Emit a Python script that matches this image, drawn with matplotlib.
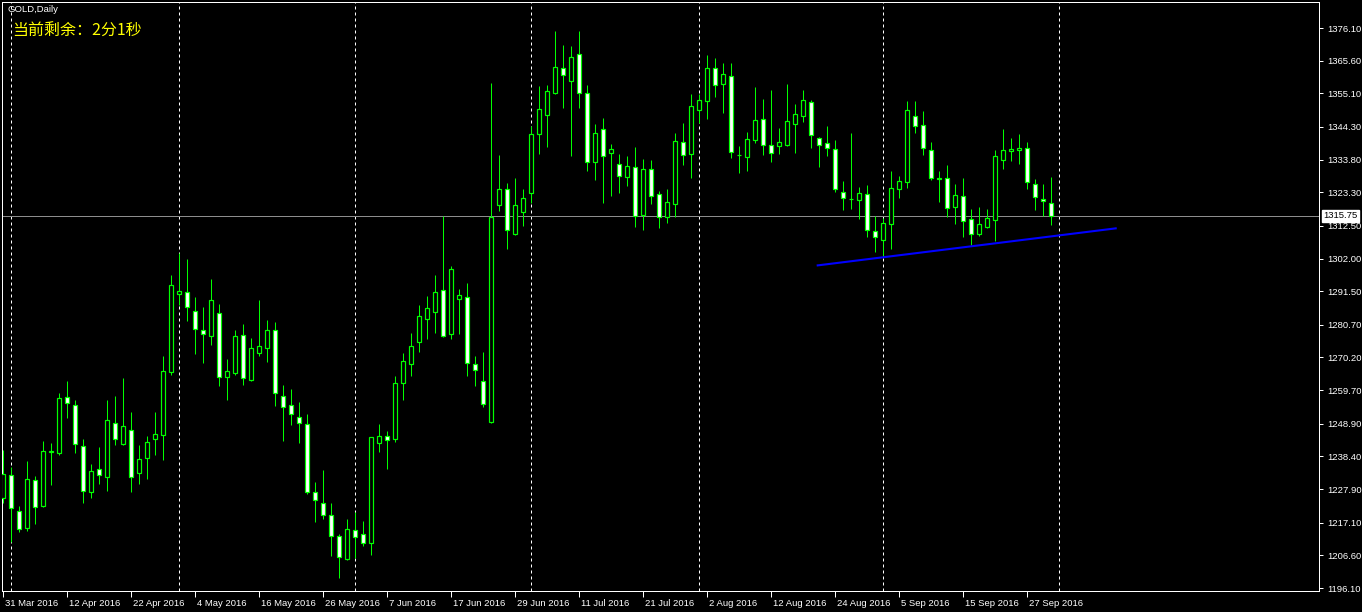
import matplotlib
matplotlib.use("Agg")
import matplotlib.pyplot as plt
import matplotlib.transforms as mtransforms
import numpy as np

# GOLD daily bars, 31 Mar 2016 .. 30 Sep 2016 (one entry per trading day)
OPEN = [1225.0, 1232.4, 1220.9, 1215.4, 1230.8, 1222.5, 1239.8, 1239.5, 1257.5, 1254.9,
        1241.7, 1227.0, 1234.4, 1231.8, 1249.1, 1242.4, 1246.9, 1233.1, 1237.9, 1244.0,
        1245.3, 1265.5, 1290.6, 1291.2, 1285.1, 1279.0, 1277.1, 1284.5, 1263.9, 1265.2,
        1277.4, 1263.0, 1271.6, 1273.2, 1279.0, 1257.8, 1254.9, 1251.1, 1248.8, 1227.0,
        1223.4, 1219.6, 1212.8, 1205.4, 1214.7, 1213.5, 1210.6, 1242.7, 1245.0, 1244.0,
        1262.0, 1268.1, 1275.2, 1282.6, 1284.8, 1291.9, 1277.7, 1289.0, 1289.6, 1268.1,
        1262.6, 1249.5, 1319.2, 1324.4, 1309.9, 1317.0, 1323.1, 1342.0, 1348.1, 1355.2,
        1363.2, 1359.1, 1367.7, 1355.2, 1333.0, 1343.6, 1335.9, 1332.4, 1328.2, 1331.4,
        1316.0, 1330.8, 1322.7, 1315.4, 1319.5, 1339.5, 1335.6, 1349.7, 1352.6, 1363.2,
        1358.1, 1360.7, 1335.3, 1334.6, 1340.1, 1346.9, 1338.5, 1338.2, 1338.5, 1345.2,
        1347.8, 1352.3, 1340.7, 1339.1, 1337.2, 1323.4, 1321.1, 1320.8, 1322.7, 1310.9,
        1308.0, 1313.1, 1324.4, 1326.6, 1347.8, 1344.9, 1336.9, 1327.9, 1327.9, 1318.6,
        1322.1, 1314.7, 1309.9, 1312.1, 1314.4, 1333.7, 1336.6, 1336.9, 1337.5, 1326.0,
        1321.1, 1319.9]
HIGH = [1240.5, 1235.0, 1222.5, 1236.9, 1232.1, 1243.4, 1242.7, 1258.8, 1262.6, 1256.5,
        1244.0, 1236.0, 1241.4, 1256.5, 1257.8, 1263.6, 1252.7, 1242.1, 1245.0, 1252.7,
        1270.7, 1296.7, 1303.8, 1301.9, 1289.6, 1286.4, 1295.4, 1287.4, 1269.7, 1279.0,
        1281.0, 1276.5, 1288.7, 1282.2, 1281.6, 1261.4, 1260.1, 1255.9, 1252.0, 1230.2,
        1234.0, 1223.4, 1213.5, 1218.3, 1220.5, 1217.6, 1244.8, 1248.8, 1246.6, 1264.2,
        1271.6, 1278.1, 1287.1, 1290.0, 1296.7, 1315.7, 1299.6, 1292.2, 1294.1, 1270.7,
        1272.0, 1358.4, 1335.3, 1326.3, 1327.9, 1324.4, 1344.6, 1357.5, 1357.8, 1375.1,
        1370.6, 1370.3, 1375.1, 1357.8, 1345.2, 1347.2, 1338.8, 1335.6, 1335.0, 1337.9,
        1334.0, 1333.7, 1323.7, 1324.4, 1342.4, 1345.6, 1354.9, 1354.9, 1367.4, 1366.5,
        1364.9, 1364.9, 1338.2, 1342.7, 1357.1, 1353.3, 1356.2, 1344.0, 1358.1, 1351.7,
        1356.2, 1353.0, 1341.1, 1344.6, 1340.1, 1326.9, 1342.4, 1325.0, 1325.6, 1315.7,
        1315.0, 1330.1, 1328.5, 1352.6, 1352.6, 1349.4, 1339.5, 1330.1, 1332.1, 1326.0,
        1327.9, 1317.9, 1318.6, 1317.9, 1336.9, 1343.6, 1340.7, 1342.0, 1339.5, 1327.6,
        1326.0, 1328.2]
LOW = [1223.4, 1210.9, 1214.1, 1214.4, 1216.7, 1222.1, 1229.2, 1239.0, 1250.7, 1239.5,
       1223.4, 1225.0, 1229.5, 1227.3, 1242.1, 1242.1, 1227.0, 1229.5, 1231.1, 1238.9,
       1237.2, 1264.6, 1287.1, 1281.9, 1271.3, 1268.4, 1274.2, 1261.0, 1256.5, 1264.6,
       1261.4, 1262.6, 1270.7, 1268.7, 1254.6, 1243.4, 1248.5, 1242.7, 1226.3, 1217.3,
       1218.3, 1206.4, 1199.3, 1205.1, 1205.7, 1209.6, 1206.7, 1239.8, 1234.4, 1243.0,
       1256.5, 1264.2, 1272.0, 1276.1, 1278.1, 1276.8, 1276.1, 1277.7, 1264.2, 1261.0,
       1254.3, 1249.0, 1317.3, 1305.1, 1309.6, 1312.5, 1319.9, 1335.6, 1337.9, 1354.9,
       1350.4, 1335.0, 1350.4, 1330.1, 1327.2, 1319.9, 1322.1, 1323.1, 1325.3, 1312.1,
       1311.2, 1319.5, 1311.8, 1313.4, 1315.4, 1332.1, 1327.9, 1345.6, 1346.9, 1353.9,
       1348.8, 1334.3, 1329.5, 1330.1, 1339.1, 1335.3, 1333.0, 1335.6, 1338.2, 1335.9,
       1345.9, 1337.5, 1331.4, 1335.0, 1323.4, 1317.6, 1317.9, 1314.7, 1308.9, 1304.1,
       1302.5, 1305.1, 1321.5, 1324.7, 1342.4, 1335.3, 1327.2, 1320.2, 1315.4, 1313.1,
       1308.9, 1306.4, 1309.2, 1311.8, 1307.6, 1330.8, 1333.4, 1332.4, 1324.4, 1317.6,
       1315.7, 1312.8]
CLOSE = [1232.7, 1221.8, 1215.1, 1231.1, 1222.1, 1240.1, 1240.1, 1257.2, 1255.6, 1242.4,
         1227.3, 1233.7, 1232.4, 1250.1, 1244.0, 1248.2, 1231.8, 1237.6, 1243.0, 1245.6,
         1265.9, 1293.5, 1291.6, 1286.4, 1279.4, 1277.7, 1288.7, 1263.9, 1265.9, 1277.1,
         1263.6, 1273.2, 1273.9, 1279.0, 1258.8, 1254.3, 1252.0, 1249.1, 1227.0, 1224.4,
         1219.6, 1212.8, 1206.1, 1215.1, 1212.5, 1210.6, 1244.6, 1245.0, 1243.7, 1262.0,
         1269.1, 1273.9, 1283.5, 1286.1, 1291.2, 1277.1, 1298.6, 1290.3, 1268.4, 1266.2,
         1255.2, 1315.4, 1324.4, 1311.2, 1319.2, 1321.5, 1342.0, 1350.1, 1355.9, 1363.6,
         1361.0, 1366.8, 1355.2, 1333.0, 1342.4, 1335.0, 1337.2, 1328.5, 1331.7, 1315.7,
         1330.8, 1322.1, 1315.4, 1320.2, 1339.8, 1335.3, 1351.0, 1353.0, 1363.2, 1357.8,
         1361.3, 1336.2, 1335.4, 1340.4, 1346.5, 1338.5, 1335.9, 1339.5, 1346.2, 1348.5,
         1353.0, 1341.7, 1338.5, 1337.5, 1324.4, 1321.5, 1321.2, 1323.1, 1311.2, 1308.9,
         1313.4, 1324.7, 1326.9, 1349.7, 1344.6, 1337.5, 1327.9, 1327.6, 1318.2, 1322.4,
         1314.1, 1309.9, 1313.1, 1315.0, 1335.0, 1336.9, 1337.2, 1337.5, 1326.6, 1321.8,
         1320.5, 1315.75]

X_LABELS = ["31 Mar 2016", "12 Apr 2016", "22 Apr 2016", "4 May 2016", "16 May 2016",
            "26 May 2016", "7 Jun 2016", "17 Jun 2016", "29 Jun 2016", "11 Jul 2016",
            "21 Jul 2016", "2 Aug 2016", "12 Aug 2016", "24 Aug 2016", "5 Sep 2016",
            "15 Sep 2016", "27 Sep 2016"]
LABEL_STEP = 8                                  # one date label every 8 bars
MONTH_STARTS = [1, 22, 44, 66, 87, 110, 132]    # bar index of the dashed separators
Y_TICKS = [1196.10, 1206.60, 1217.10, 1227.90, 1238.40, 1248.90, 1259.70, 1270.20,
           1280.70, 1291.50, 1302.00, 1312.50, 1323.30, 1333.80, 1344.30, 1355.10,
           1365.60, 1376.10]
LAST_PRICE = 1315.75
TREND_IDX = [101.8, 139.05]
TREND_PRICE = [1299.8, 1311.7]

GREEN = "#00FF00"
PX = 0.72  # one pixel in points at dpi 100

o = np.array(OPEN)
h = np.array(HIGH)
l = np.array(LOW)
c = np.array(CLOSE)
idx = np.arange(len(o))
bull = c >= o

fig = plt.figure(figsize=(13.62, 6.12), dpi=100, facecolor="black")
ax = fig.add_axes([2 / 1362, 21 / 612, 1317 / 1362, 589 / 612])
ax.set_facecolor("black")

# month separators
for m in MONTH_STARTS:
    ax.axvline(m, color="white", lw=PX, ls=(0, (3, 3)), zorder=1)

# last price line
ax.axhline(LAST_PRICE, color="#8c8c8c", lw=PX, zorder=1)

# candles: wicks, then bodies (bull = black fill, bear = white fill)
ax.vlines(idx, l, h, color=GREEN, lw=PX, zorder=2)
ax.bar(idx, np.abs(c - o), bottom=np.minimum(o, c), width=0.5,
       color=np.where(bull, "black", "white"), edgecolor=GREEN, linewidth=PX * 1.2, zorder=3)

# trend line
ax.plot(TREND_IDX, TREND_PRICE, color="#0000FF", lw=1.5, zorder=4)

ax.set_xlim(-0.16, 164.46)
ax.set_ylim(1195.14, 1384.46)

for sp in ax.spines.values():
    sp.set_color("white")
    sp.set_linewidth(PX)

# y axis on the right
ax.yaxis.tick_right()
ax.set_yticks(Y_TICKS, [f"{v:.2f}" for v in Y_TICKS])
ax.tick_params(axis="y", colors="white", length=3, width=PX, pad=3, labelsize=6.8)
for t in ax.get_yticklabels():
    t.set_fontfamily("Liberation Sans")

# x axis date labels
ax.set_xticks(np.arange(len(X_LABELS)) * LABEL_STEP, X_LABELS)
ax.tick_params(axis="x", colors="white", length=4, width=PX, pad=1.5, labelsize=6.8)
shift = mtransforms.ScaledTranslation(2 / 100, 0, fig.dpi_scale_trans)
for t in ax.get_xticklabels():
    t.set_horizontalalignment("left")
    t.set_fontfamily("Liberation Sans")
    t.set_transform(t.get_transform() + shift)

# last price tag
tag_tr = mtransforms.blended_transform_factory(ax.transAxes, ax.transData)
ax.text(1.0035, LAST_PRICE, f"{LAST_PRICE:.2f}", transform=tag_tr, ha="left", va="center",
        fontsize=6.8, family="Liberation Sans", color="black", zorder=5,
        bbox=dict(boxstyle="square,pad=0.15", facecolor="white", edgecolor="white"),
        clip_on=False)

fig.text(7 / 1362, 1 - 10 / 612, "GOLD,Daily", color="white", fontsize=6.8,
         family="Liberation Sans", va="center")
fig.text(12 / 1362, 1 - 31 / 612, "当前剩余：2分1秒", color="yellow", fontsize=11.5,
         family=["Noto Sans CJK SC", "DejaVu Sans"], va="center")

fig.savefig("out.png", dpi=100, facecolor="black")
